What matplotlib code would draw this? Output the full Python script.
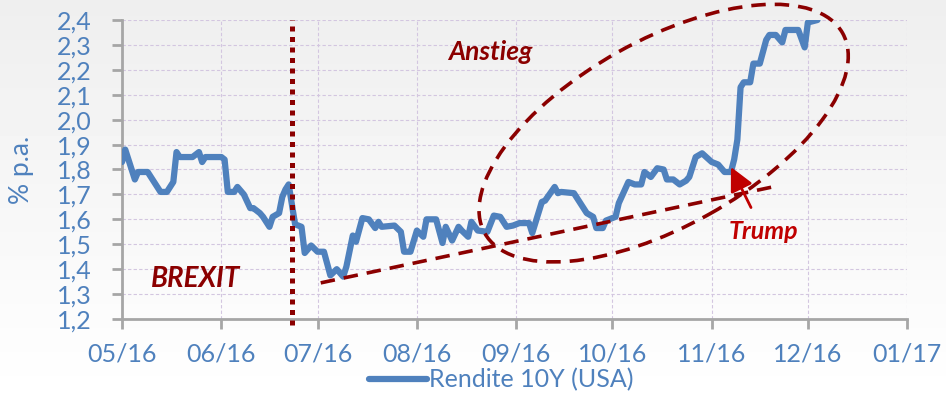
import numpy as np
import pandas as pd
import matplotlib
matplotlib.use("Agg")
import matplotlib.pyplot as plt
import matplotlib.dates as mdates
from matplotlib.patches import Ellipse
from matplotlib.ticker import FuncFormatter, MultipleLocator

plt.rcParams['font.family'] = ['Lato', 'DejaVu Sans']

# Rendite 10Y (USA)
dates = ['2016-05-01', '2016-05-02', '2016-05-05', '2016-05-06', '2016-05-09', '2016-05-10',
         '2016-05-11', '2016-05-12', '2016-05-13', '2016-05-15', '2016-05-17', '2016-05-18',
         '2016-05-19', '2016-05-23', '2016-05-24', '2016-05-25', '2016-05-26', '2016-05-27',
         '2016-06-01', '2016-06-02', '2016-06-03', '2016-06-05', '2016-06-06', '2016-06-08',
         '2016-06-10', '2016-06-11', '2016-06-13', '2016-06-14', '2016-06-16', '2016-06-17',
         '2016-06-19', '2016-06-20', '2016-06-21', '2016-06-22', '2016-06-24', '2016-06-26',
         '2016-06-27', '2016-06-29', '2016-07-01', '2016-07-03', '2016-07-05', '2016-07-07',
         '2016-07-09', '2016-07-10', '2016-07-12', '2016-07-13', '2016-07-15', '2016-07-17',
         '2016-07-19', '2016-07-20', '2016-07-21', '2016-07-25', '2016-07-27', '2016-07-28',
         '2016-07-30', '2016-08-01', '2016-08-03', '2016-08-04', '2016-08-07', '2016-08-09',
         '2016-08-10', '2016-08-12', '2016-08-14', '2016-08-15', '2016-08-17', '2016-08-18',
         '2016-08-20', '2016-08-23', '2016-08-25', '2016-08-27', '2016-08-29', '2016-08-31',
         '2016-09-02', '2016-09-05', '2016-09-06', '2016-09-09', '2016-09-10', '2016-09-13',
         '2016-09-14', '2016-09-15', '2016-09-19', '2016-09-21', '2016-09-23', '2016-09-25',
         '2016-09-26', '2016-09-28', '2016-09-29', '2016-10-02', '2016-10-03', '2016-10-06',
         '2016-10-08', '2016-10-10', '2016-10-11', '2016-10-13', '2016-10-15', '2016-10-17',
         '2016-10-18', '2016-10-20', '2016-10-22', '2016-10-24', '2016-10-25', '2016-10-27',
         '2016-10-29', '2016-11-01', '2016-11-03', '2016-11-05', '2016-11-07', '2016-11-08',
         '2016-11-09', '2016-11-10', '2016-11-11', '2016-11-13', '2016-11-14', '2016-11-16',
         '2016-11-18', '2016-11-19', '2016-11-21', '2016-11-23', '2016-11-24', '2016-11-28',
         '2016-11-30', '2016-12-01', '2016-12-04']
yields = [1.83, 1.88, 1.76, 1.79, 1.79, 1.77,
          1.75, 1.73, 1.71, 1.71, 1.75, 1.87,
          1.85, 1.85, 1.86, 1.87, 1.83, 1.85,
          1.85, 1.84, 1.71, 1.71, 1.73, 1.70,
          1.645, 1.645, 1.625, 1.61, 1.57, 1.61,
          1.625, 1.69, 1.72, 1.74, 1.58, 1.57,
          1.465, 1.495, 1.47, 1.47, 1.375, 1.40,
          1.37, 1.41, 1.535, 1.51, 1.605, 1.60,
          1.565, 1.59, 1.57, 1.575, 1.55, 1.47,
          1.47, 1.555, 1.53, 1.60, 1.60, 1.505,
          1.57, 1.515, 1.57, 1.555, 1.53, 1.59,
          1.555, 1.55, 1.615, 1.61, 1.57, 1.575,
          1.585, 1.585, 1.545, 1.67, 1.675, 1.73,
          1.705, 1.71, 1.705, 1.665, 1.625, 1.61,
          1.565, 1.565, 1.595, 1.61, 1.665, 1.75,
          1.74, 1.74, 1.79, 1.77, 1.805, 1.80,
          1.76, 1.76, 1.74, 1.755, 1.77, 1.85,
          1.865, 1.83, 1.82, 1.79, 1.79, 1.84,
          1.92, 2.13, 2.15, 2.15, 2.225, 2.225,
          2.32, 2.34, 2.34, 2.31, 2.36, 2.36,
          2.29, 2.39, 2.40]

month_ticks = pd.date_range('2016-05-01', '2017-01-01', freq='MS')
brexit_date = '2016-06-23'
trend_dates = ['2016-07-02', '2016-11-20']
trend_values = [1.345, 1.73]

blue = '#4f81bd'
darkred = '#8b0000'
red = '#c00000'

fig = plt.figure(figsize=(9.46, 4.0), dpi=100)

# soft grey-to-white background
bg = fig.add_axes([0, 0, 1, 1], zorder=-10)
grad = np.linspace(0.935, 1.0, 200).reshape(-1, 1)
bg.imshow(grad, aspect='auto', cmap='gray', vmin=0, vmax=1, extent=[0, 1, 0, 1], origin='upper')
bg.axis('off')

ax = fig.add_axes([0.129, 0.2025, 0.830, 0.7475])
ax.patch.set_alpha(0)

x = pd.to_datetime(dates)
ax.plot(x, yields, color=blue, lw=4.5, solid_joinstyle='round', solid_capstyle='round',
        label='Rendite 10Y (USA)', zorder=3)

ax.set_xlim(month_ticks[0], month_ticks[-1])
ax.set_ylim(1.2, 2.4)
ax.set_xticks(month_ticks)
ax.xaxis.set_major_formatter(mdates.DateFormatter('%m/%y'))
ax.yaxis.set_major_locator(MultipleLocator(0.1))
ax.yaxis.set_major_formatter(FuncFormatter(lambda v, p: f"{v:.1f}".replace('.', ',')))

ax.grid(True, color='#d3c6e0', linestyle=(0, (3, 2)), lw=0.8, zorder=0)
for s in ['top', 'right']:
    ax.spines[s].set_visible(False)
for s in ['left', 'bottom']:
    ax.spines[s].set_color('#a6a6a6')
    ax.spines[s].set_linewidth(2)
ax.tick_params(axis='both', colors='#a6a6a6', width=2, length=7, labelcolor=blue, labelsize=18)
ax.tick_params(axis='x', pad=10)
ax.tick_params(axis='y', pad=15)
ax.set_ylabel('% p.a.', color=blue, fontsize=19, labelpad=16)

# BREXIT marker
ax.axvline(pd.Timestamp(brexit_date), ymin=-0.02, ymax=1, color=darkred, lw=3.6,
           linestyle=(0, (1, 1.1)), clip_on=False, zorder=4)
ax.text(pd.Timestamp('2016-05-24'), 1.36, 'BREXIT', color=darkred, fontsize=20,
        fontweight='bold', fontstyle='italic', ha='center', va='center')

# trend line
ax.plot(pd.to_datetime(trend_dates), trend_values, color=darkred, lw=2.6,
        linestyle=(0, (4, 2.5)), zorder=4)

# ellipse around the rise, drawn in pixel space so it stays a true ellipse
fig.canvas.draw()
cx, cy = ax.transData.transform((mdates.date2num(pd.Timestamp('2016-10-17')), 1.946))
ell = Ellipse((cx / fig.dpi, cy / fig.dpi), 4.10, 1.86, angle=29.2,
              transform=fig.dpi_scale_trans, fill=False, edgecolor=darkred, lw=2.6,
              linestyle=(0, (4, 2.5)), clip_on=False, zorder=4)
fig.add_artist(ell)
ax.text(pd.Timestamp('2016-08-24'), 2.27, 'Anstieg', color=darkred, fontsize=19,
        fontweight='bold', fontstyle='italic', ha='center', va='center')

# Trump arrow
ax.annotate('Trump', xy=(pd.Timestamp('2016-11-07'), 1.81),
            xytext=(pd.Timestamp('2016-11-17'), 1.55), color=red, fontsize=18,
            fontweight='bold', fontstyle='italic', ha='center', va='center',
            arrowprops=dict(arrowstyle='-|>,head_length=0.8,head_width=0.4', color=red,
                            lw=2.0, shrinkA=8, shrinkB=0), zorder=5)

fig.legend(loc='lower center', bbox_to_anchor=(0.53, -0.035), frameon=False,
           fontsize=18, labelcolor=blue, handlelength=2.3, handletextpad=0.1)

fig.savefig('out.png', dpi=100)
